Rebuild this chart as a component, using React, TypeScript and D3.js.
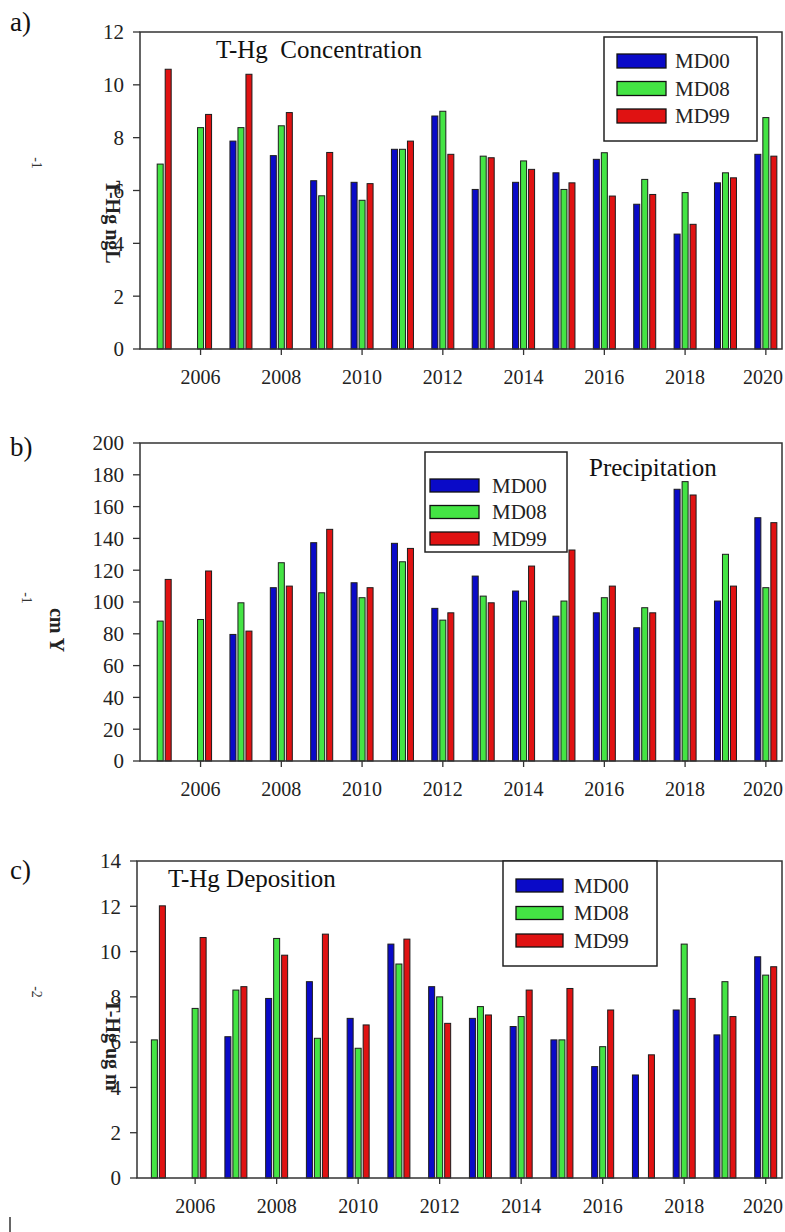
import React from 'react';
import * as d3 from 'd3';

// years on the x axis and the three sites
const years = d3.range(2005, 2021);
const sites = ['MD00', 'MD08', 'MD99'];
const evenYears = [2006, 2008, 2010, 2012, 2014, 2016, 2018, 2020];

// a) T-Hg concentration (ng L-1)
const concMD00 = [null, null, 7.87, 7.32, 6.37, 6.31, 7.56, 8.82, 6.04, 6.31, 6.67, 7.18, 5.48, 4.35, 6.29, 7.37];
const concMD08 = [7.0, 8.38, 8.38, 8.45, 5.8, 5.63, 7.56, 9.0, 7.3, 7.12, 6.04, 7.43, 6.42, 5.92, 6.67, 8.76];
const concMD99 = [10.59, 8.88, 10.4, 8.95, 7.44, 6.26, 7.87, 7.37, 7.24, 6.8, 6.29, 5.79, 5.85, 4.72, 6.48, 7.3];
const concTicks = [0, 2, 4, 6, 8, 10, 12];

// b) precipitation (cm y-1)
const precMD00 = [null, null, 79.6, 109, 137.3, 112.1, 136.9, 96, 116.3, 106.9, 91.1, 93.2, 83.8, 170.9, 100.6, 153];
const precMD08 = [88, 89, 99.5, 124.7, 105.8, 102.7, 125.3, 88.6, 103.7, 100.6, 100.6, 102.7, 96.4, 175.7, 130, 109];
const precMD99 = [114.2, 119.5, 81.7, 110, 145.7, 109, 133.7, 93.2, 99.5, 122.6, 132.7, 110, 93.2, 167.3, 110, 149.9];
const precTicks = [0, 20, 40, 60, 80, 100, 120, 140, 160, 180, 200];

// c) T-Hg deposition (ug m-2)
const depMD00 = [null, null, 6.24, 7.93, 8.67, 7.05, 10.33, 8.45, 7.05, 6.69, 6.1, 4.92, 4.55, 7.42, 6.32, 9.77];
const depMD08 = [6.1, 7.49, 8.3, 10.58, 6.17, 5.73, 9.45, 8.0, 7.57, 7.13, 6.1, 5.8, null, 10.33, 8.67, 8.96];
const depMD99 = [12.02, 10.62, 8.45, 9.84, 10.77, 6.76, 10.55, 6.83, 7.2, 8.3, 8.37, 7.42, 5.44, 7.93, 7.13, 9.33];
const depTicks = [0, 2, 4, 6, 8, 10, 12, 14];

const colors = { MD00: '#0a0ac8', MD08: '#44e444', MD99: '#e01212' };
const FONT = 'Liberation Serif, Times New Roman, DejaVu Serif, serif';

const panels = [
  {
    tag: 'a)', tagY: 31,
    series: [concMD00, concMD08, concMD99], ticks: concTicks, max: 12,
    left: 140, top: 32, bottom: 349,
    title: 'T-Hg  Concentration', titleX: 216, titleY: 58,
    legend: { x: 604, y: 37, w: 153, h: 104, sx: 617, sw: 49, rowY: 54, rowH: 14, step: 27.5, lx: 675 },
    ylab: 'T-Hg ngL', ylabX: 113, ylabY: 222, sup: '-1', supX: 37, supY: 163,
  },
  {
    tag: 'b)', tagY: 456,
    series: [precMD00, precMD08, precMD99], ticks: precTicks, max: 200,
    left: 140, top: 443, bottom: 761,
    title: 'Precipitation', titleX: 589, titleY: 476,
    legend: { x: 425, y: 452, w: 142, h: 100, sx: 430, sw: 49, rowY: 479, rowH: 13, step: 26.5, lx: 492 },
    ylab: 'cm Y', ylabX: 57, ylabY: 630, sup: '-1', supX: 27, supY: 598,
  },
  {
    tag: 'c)', tagY: 879,
    series: [depMD00, depMD08, depMD99], ticks: depTicks, max: 14,
    left: 137, top: 861, bottom: 1178,
    title: 'T-Hg Deposition', titleX: 168, titleY: 887,
    legend: { x: 503, y: 861, w: 154, h: 105, sx: 516, sw: 47, rowY: 879, rowH: 13, step: 27.5, lx: 574 },
    ylab: 'T-Hg ug m', ylabX: 113, ylabY: 1045, sup: '-2', supX: 37, supY: 992,
  },
];

const RIGHT = 782;

function Panel({ p }) {
  const x = d3.scaleLinear().domain([2004.5, 2020.4]).range([p.left + (p.left === 140 ? 0 : -3), RIGHT]);
  const sub = d3.scaleBand().domain(sites).range([-11, 11]).paddingInner(0.25);
  const y = d3.scaleLinear().domain([0, p.max]).range([p.bottom, p.top]);
  const L = p.legend;
  const txt = { fontFamily: FONT };

  return (
    <g>
      <text x={10} y={p.tagY} fontSize={27} style={txt} fill="#111">{p.tag}</text>

      {/* bars */}
      {sites.map((s, si) => (
        <g key={s}>
          {years.map((yr, i) => {
            const v = p.series[si][i];
            if (v == null) return null;
            return (
              <rect key={yr}
                x={x(yr) + sub(s)} y={y(v)}
                width={sub.bandwidth()} height={y(0) - y(v)}
                fill={colors[s]} stroke="#1c1c1c" strokeWidth={1} />
            );
          })}
        </g>
      ))}

      {/* frame */}
      <rect x={p.left} y={p.top} width={RIGHT - p.left} height={p.bottom - p.top}
        fill="none" stroke="#333" strokeWidth={1.5} />

      {/* y axis */}
      {p.ticks.map(t => (
        <g key={t}>
          <line x1={p.left - 7} x2={p.left} y1={y(t)} y2={y(t)} stroke="#333" strokeWidth={1.3} />
          <text x={p.left - 16} y={y(t)} dy="0.35em" textAnchor="end"
            fontSize={21} style={txt} fill="#222">{t}</text>
        </g>
      ))}

      {/* x axis */}
      {evenYears.map(t => (
        <g key={t}>
          <line x1={x(t)} x2={x(t)} y1={p.bottom} y2={p.bottom + 6} stroke="#333" strokeWidth={1.3} />
          <text x={Math.min(x(t), 763)} y={p.bottom + 28} dy="0.35em" textAnchor="middle"
            fontSize={20} style={txt} fill="#222">{t}</text>
        </g>
      ))}

      {/* title */}
      <text x={p.titleX} y={p.titleY} fontSize={25} fill="#111"
        style={{ ...txt, whiteSpace: 'pre' }}>{p.title}</text>

      {/* legend */}
      <rect x={L.x} y={L.y} width={L.w} height={L.h} fill="#fff" stroke="#222" strokeWidth={1.5} />
      {sites.map((s, i) => (
        <g key={s}>
          <rect x={L.sx} y={L.rowY + i * L.step} width={L.sw} height={L.rowH}
            fill={colors[s]} stroke="#111" strokeWidth={1.3} />
          <text x={L.lx} y={L.rowY + i * L.step + L.rowH / 2} dy="0.35em"
            fontSize={21} style={txt} fill="#222">{s}</text>
        </g>
      ))}

      {/* y label */}
      <text transform={`translate(${p.ylabX},${p.ylabY}) rotate(90)`} textAnchor="middle"
        dy="0.35em" fontSize={20} fontWeight="bold" style={txt} fill="#222">{p.ylab}</text>
      <text transform={`translate(${p.supX},${p.supY}) rotate(90)`} textAnchor="middle"
        dy="0.35em" fontSize={14} style={txt} fill="#333">{p.sup}</text>
    </g>
  );
}

export default function App() {
  return (
    <div style={{ position: 'absolute', left: 0, top: 0 }}>
      <svg width={785} height={1232} style={{ display: 'block', background: '#fff' }}>
        {panels.map(p => <Panel key={p.tag} p={p} />)}
        <line x1={10} x2={10} y1={1217} y2={1232} stroke="#333" strokeWidth={1.5} />
      </svg>
    </div>
  );
}
